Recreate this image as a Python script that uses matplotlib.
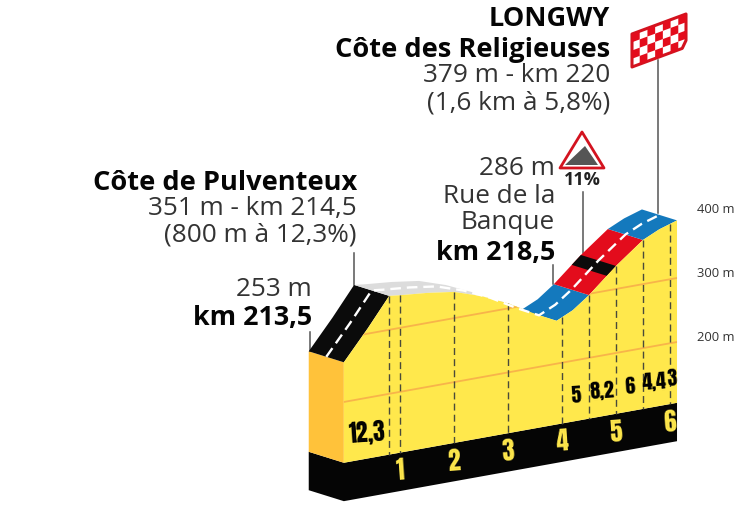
import numpy as np
import matplotlib
matplotlib.use("Agg")
import matplotlib.pyplot as plt
from matplotlib.patches import Polygon
from matplotlib.transforms import Affine2D

# profil de la montee, km depuis le pied / altitude en m
profile_km = [-0.04, 0.4, 0.8, 1.0, 1.5, 2.0, 2.5, 3.0, 3.5, 3.9, 4.2, 4.5, 5.0, 5.5, 5.8, 6.13]
profile_alt = [262, 308, 353, 351, 347, 341, 327, 308, 284, 267, 279, 298, 336, 369, 381, 390]

km_marks = [1, 2, 3, 4, 5, 6]
dash_km = [0.8, 1, 2, 3, 4, 4.5, 5, 5.5, 6]
grad_km = [0.4, 4.25, 4.75, 5.25, 5.72, 6.04]
grad_labels = ["12,3", "5", "8,2", "6", "4,4", "3"]
alt_ticks = [200, 300, 400]

# sections de la route (debut, fin, couleur)
road_sections = [
    (-0.04, 0.8, "#0b0b0b"),
    (0.8, 3.9, "#dcdcdc"),
    (3.9, 4.5, "#1479bd"),
    (4.5, 5.5, "#e30c1c"),
    (5.5, 6.13, "#1479bd"),
    (4.83, 5.0, "#0b0b0b"),
]

YELLOW = "#ffe84c"
ORANGE = "#ffc23a"
LINE_ORANGE = "#f8b44a"
BASE_ALT = 105
BAND_ALT = 45
DEPTH_KM = -0.65
DEPTH_ALT = 27
NARROW = ["Anton", "Open Sans"]

fig = plt.figure(figsize=(7.53, 5.08), dpi=100)
ax = fig.add_axes([0, 0, 1, 1])
ax.set_xlim(0, 753)
ax.set_ylim(508, 0)
ax.axis("off")

# vue en perspective: km, altitude -> pixels
tf = Affine2D.from_values(54, -9.72, 0, -0.64, 346, 529.58) + ax.transData


def alt_at(km):
    return np.interp(km, profile_km, profile_alt)


x0, x1 = profile_km[0], profile_km[-1]

# bande noire du bas + face arriere orange
band = [(x0 + DEPTH_KM, BASE_ALT + DEPTH_ALT), (x0, BASE_ALT), (x1, BASE_ALT), (x1, BAND_ALT), (x0, BAND_ALT),
        (x0 + DEPTH_KM, BAND_ALT + DEPTH_ALT)]
ax.add_patch(Polygon(band, closed=True, fc="#050505", ec="none", transform=tf))
side = [(x0 + DEPTH_KM, profile_alt[0] + DEPTH_ALT), (x0, profile_alt[0]), (x0, BASE_ALT),
        (x0 + DEPTH_KM, BASE_ALT + DEPTH_ALT)]
ax.add_patch(Polygon(side, closed=True, fc=ORANGE, ec="none", transform=tf))

# route
for start, end, color in road_sections:
    kms = np.array([start] + [k for k in profile_km if start < k < end] + [end])
    alts = alt_at(kms)
    front = np.column_stack([kms, alts])
    back = np.column_stack([kms + DEPTH_KM, alts + DEPTH_ALT])
    ax.add_patch(Polygon(np.vstack([front, back[::-1]]), closed=True, fc=color, ec="none", transform=tf, zorder=2))

# face jaune
face = list(zip(profile_km, profile_alt)) + [(x1, BASE_ALT), (x0, BASE_ALT)]
face_patch = Polygon(face, closed=True, fc=YELLOW, ec="none", transform=tf, zorder=3)
ax.add_patch(face_patch)

for alt in alt_ticks[:2]:
    ln, = ax.plot([x0, x1], [alt, alt], color=LINE_ORANGE, lw=1.3, transform=tf, zorder=4)
    ln.set_clip_path(face_patch)

for km in dash_km:
    ax.plot([km, km], [alt_at(km), BASE_ALT], color="#4a4a3a", lw=1.0, ls=(0, (5, 3)), transform=tf, zorder=4)

# ligne blanche
ax.plot(np.array(profile_km) + DEPTH_KM / 2, np.array(profile_alt) + DEPTH_ALT / 2, color="white", lw=1.7,
        ls=(0, (4.5, 2.5)), transform=tf, zorder=5)

for km in km_marks:
    ax.text(km, 77, str(km), color=YELLOW, family=NARROW, fontsize=18, ha="center", va="center",
            transform=tf, rotation=4, zorder=6)
for km, lab in zip(grad_km, grad_labels):
    size = 17 if lab == "12,3" else 14.5
    ax.text(km, 145, lab, color="black", family=NARROW, fontsize=size, ha="center", va="center",
            transform=tf, rotation=4, zorder=6)

for alt in alt_ticks:
    y = tf.transform((x1, alt))[1]
    y = ax.transData.inverted().transform((0, y))[1]
    ax.text(697, y - 4, f"{alt} m", fontsize=9.4, color="#333333", family="Open Sans", va="center", ha="left")

# traits de rappel
for x, y0, y1 in [(310, 332, 351), (354.5, 253, 285), (553, 265, 284), (583, 192, 253), (658, 60, 213)]:
    ax.plot([x, x], [y0, y1], color="#555555", lw=1.1, zorder=1)


def label(x, y, s, bold=False, size=18.8):
    ax.text(x, y, s, ha="right", va="baseline", family="Open Sans", fontsize=size,
            weight="bold" if bold else "normal", color="#050505" if bold else "#333333")


label(610, 26, "LONGWY", True, 19.5)
label(610, 57, "Côte des Religieuses", True, 19.6)
label(610, 82, "379 m - km 220")
label(610, 110, "(1,6 km à 5,8%)")
label(357, 190, "Côte de Pulventeux", True, 19.6)
label(357, 215, "351 m - km 214,5")
label(357, 241, "(800 m à 12,3%)")
label(312, 296, "253 m")
label(312, 325, "km 213,5", True, 19.4)
label(555, 175, "286 m")
label(555, 203, "Rue de la")
label(555, 229, "Banque")
label(555, 260, "km 218,5", True, 19.4)

# panneau 11%
ax.add_patch(Polygon([(582, 132), (560, 168), (604, 168)], closed=True, fc="white", ec="#d3131f", lw=2,
                     joinstyle="round", zorder=3))
ax.add_patch(Polygon([(585, 146), (565, 165), (598, 165)], closed=True, fc="#555555", ec="none", zorder=4))
ax.text(582, 180, "11%", ha="center", va="center", family="Open Sans", weight="bold", fontsize=13,
        color="#222222")

# drapeau d'arrivee
p00 = np.array([632, 34.0])
ex = np.array([54, -20.0])
ey = np.array([0, 33.0])
outline = [p00, p00 + ex, p00 + ex + ey * 0.8, p00 + ex * 0.93 + ey * 1.0, p00 + ey]
flag = Polygon(outline, closed=True, fc="white", ec="#d3131f", lw=2.2, joinstyle="round", zorder=3)
ax.add_patch(flag)
nx, ny = 7, 4
for i in range(nx):
    for j in range(ny):
        if (i + j) % 2 == 0:
            c = p00 + ex * (i / nx) + ey * (j / ny)
            sq = Polygon([c, c + ex / nx, c + ex / nx + ey / ny, c + ey / ny], closed=True, fc="#e30c1c", ec="none",
                         zorder=4)
            ax.add_patch(sq)
            sq.set_clip_path(flag)

fig.savefig("out.png", dpi=100)
